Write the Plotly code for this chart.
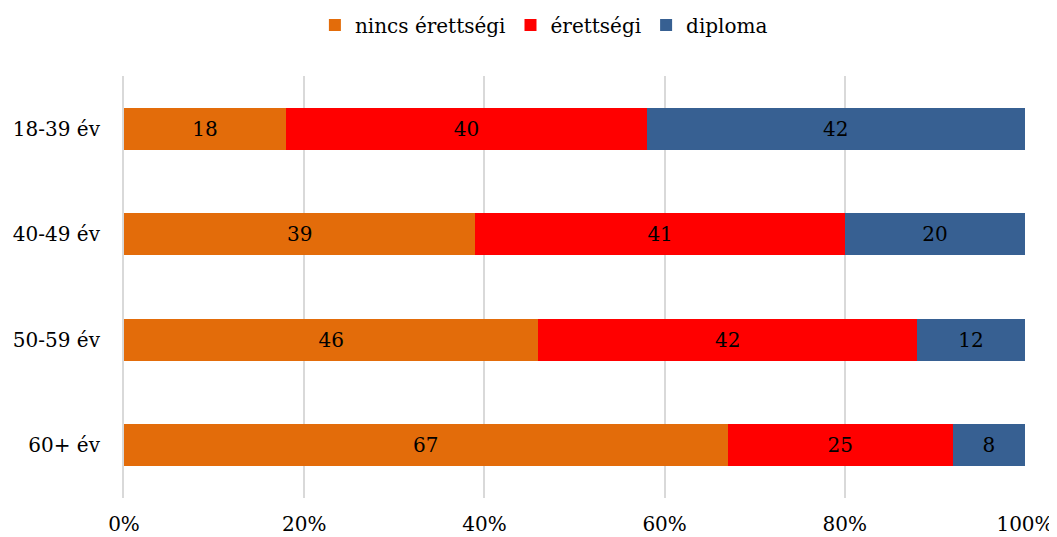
import plotly.graph_objects as go

categories = ["18-39 év", "40-49 év", "50-59 év", "60+ év"]
nincs = [18, 39, 46, 67]
erettsegi = [40, 41, 42, 25]
diploma = [42, 20, 12, 8]
series_names = ["nincs érettségi", "érettségi", "diploma"]
colors = ["#E36C0A", "#FF0000", "#376092"]
x_ticks = [0, 20, 40, 60, 80, 100]
x_labels = [f"{v}%" for v in x_ticks]

FONT = "DejaVu Serif"
FS = 20

fig = go.Figure()
for name, vals, col in zip(series_names, [nincs, erettsegi, diploma], colors):
    fig.add_trace(go.Bar(
        y=categories, x=vals, name=name, orientation="h",
        marker=dict(color=col, line=dict(width=0)),
        text=[str(v) for v in vals], textposition="inside",
        insidetextanchor="middle",
        textfont=dict(family=FONT, size=FS, color="black"),
        hoverinfo="skip",
    ))

fig.update_layout(
    barmode="stack",
    bargap=0.6,
    width=1057, height=537,
    margin=dict(l=116, r=40, t=68, b=47, autoexpand=False),
    paper_bgcolor="white", plot_bgcolor="white",
    font=dict(family=FONT, size=FS, color="black"),
    legend=dict(orientation="h", xref="container", x=0.507, xanchor="center",
                yref="container", y=1 - 17 / 537, yanchor="middle",
                font=dict(family=FONT, size=FS, color="black"), traceorder="normal"),
    xaxis=dict(range=[0, 100], tickmode="array", tickvals=x_ticks, ticktext=x_labels,
               showgrid=True, gridcolor="#D9D9D9", gridwidth=2, zeroline=False,
               showline=False, ticks="", ticklabelstandoff=12, automargin=False,
               tickfont=dict(family=FONT, size=FS)),
    yaxis=dict(autorange="reversed", showgrid=False, showline=True,
               linecolor="#D9D9D9", linewidth=2, ticks="",
               ticklabelstandoff=18, automargin=False,
               tickfont=dict(family=FONT, size=FS)),
)

fig.write_html("out.html")
